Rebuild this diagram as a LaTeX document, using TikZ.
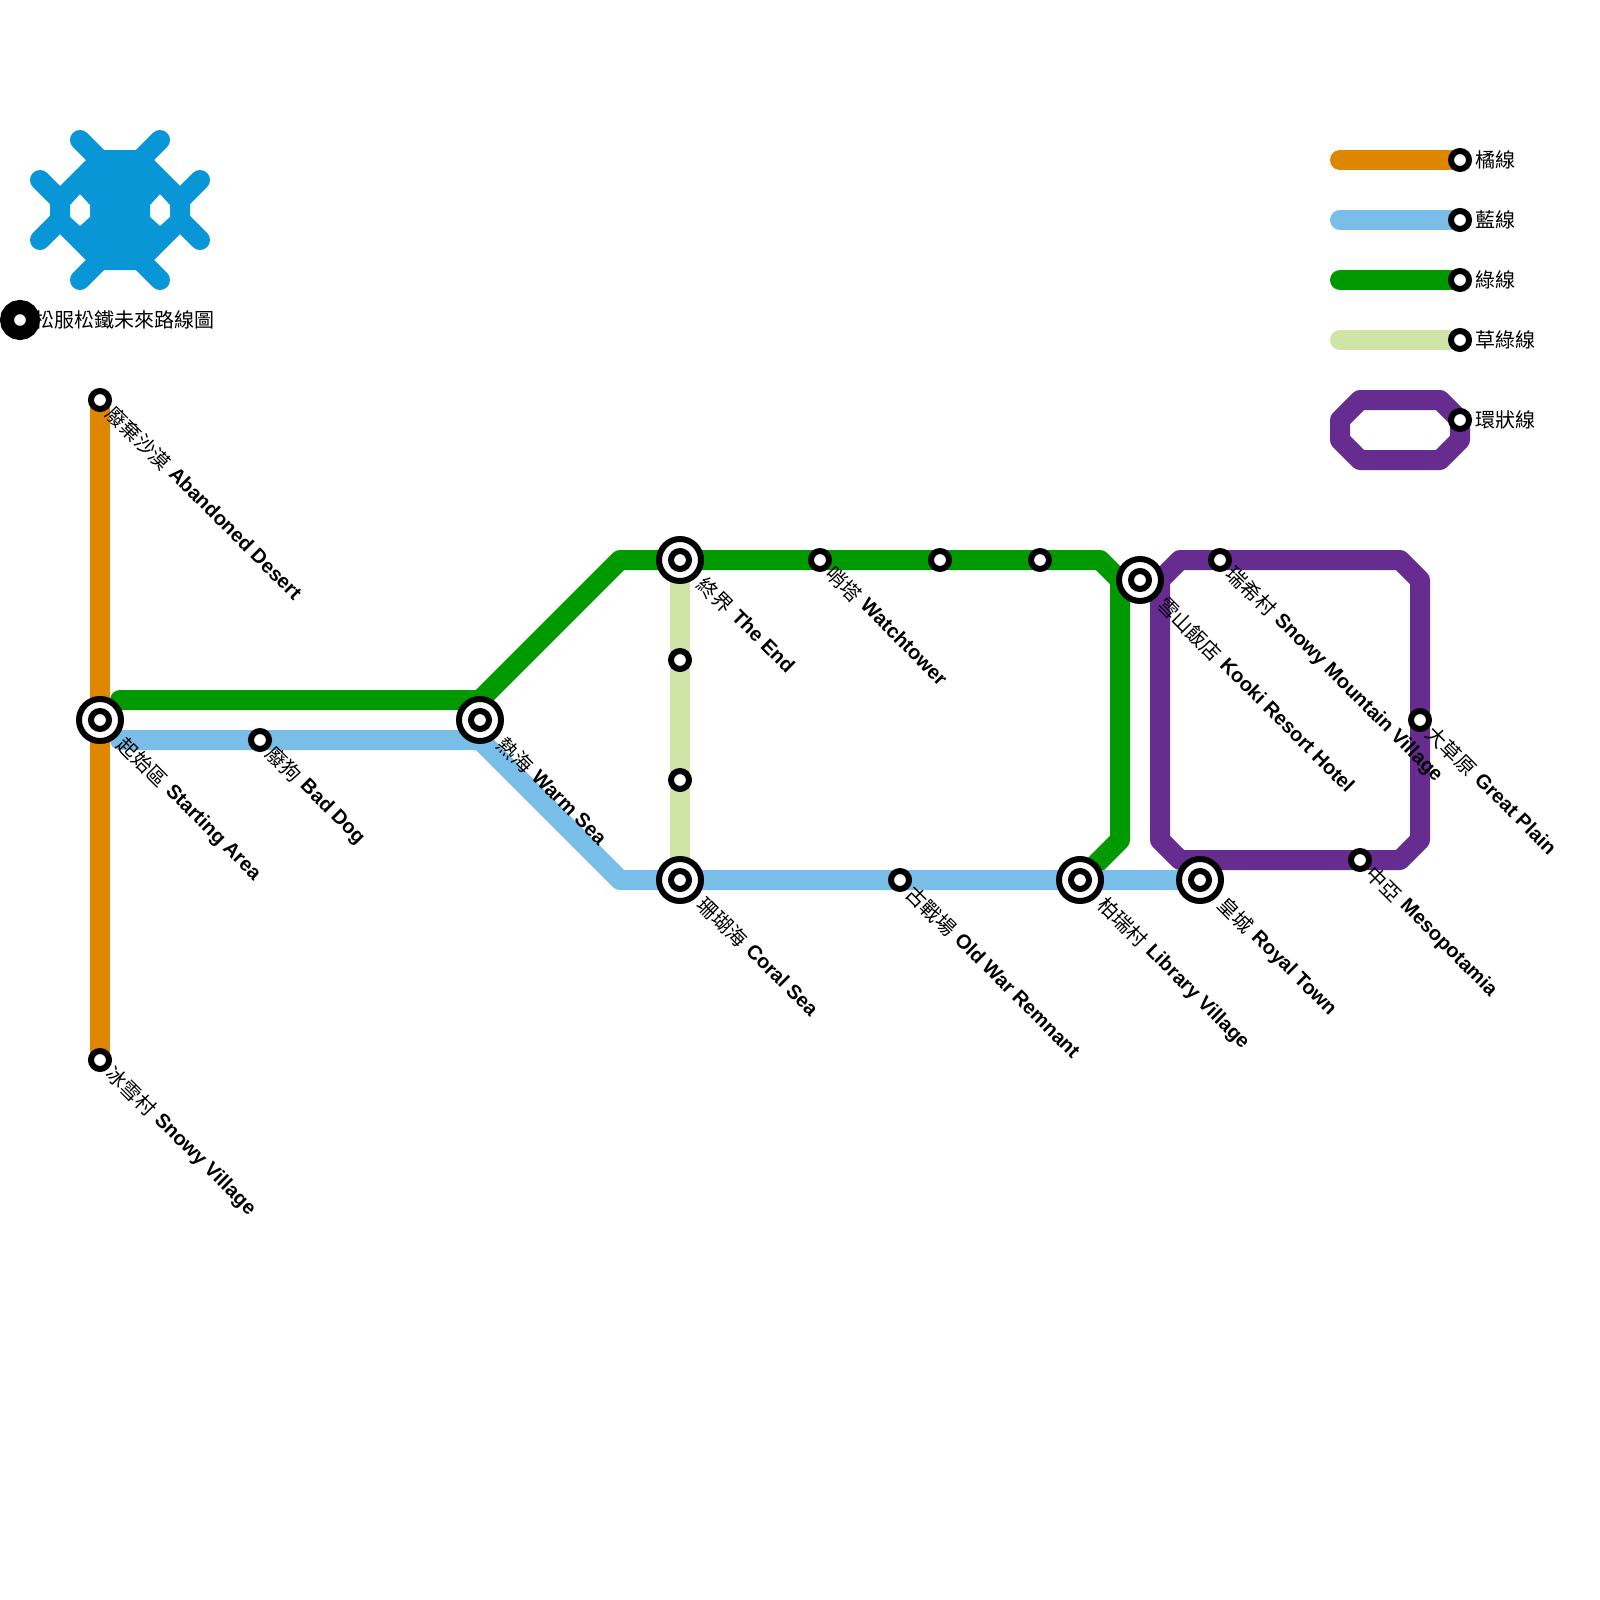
\documentclass[tikz,border=0pt]{standalone}
\usepackage{fontspec}
\setmainfont{Liberation Sans}
\newfontfamily\cjk{Noto Sans CJK TC}
\usetikzlibrary{backgrounds,calc}
\definecolor{orangeline}{HTML}{DF8600}
\definecolor{blueline}{HTML}{79BDE9}
\definecolor{greenline}{HTML}{009900}
\definecolor{grassline}{HTML}{CFE4A7}
\definecolor{loopline}{HTML}{662C90}
\definecolor{logoblue}{HTML}{0896D7}
\tikzset{
  stn/.style={circle,draw=black,fill=white,line width=6pt,minimum size=18pt,inner sep=0pt,outer sep=0pt},
  hubring/.style={circle,draw=black,fill=white,line width=6pt,minimum size=42pt,inner sep=0pt,outer sep=0pt},
  metro/.style={line width=20pt,line join=round,line cap=round},
  stationlabel/.style={rotate=-45,anchor=base west,inner sep=0pt,outer sep=0pt,font=\fontsize{20}{24}\selectfont},
  legendlabel/.style={anchor=base west,inner sep=0pt,outer sep=0pt,font=\fontsize{20}{24}\selectfont\cjk},
  logoarm/.style={line width=20pt,line cap=round,draw=logoblue}
}
\newcommand{\hubat}[3]{\node[hubring] (#1) at (#2,#3) {}; \node[stn] (#1-core) at (#2,#3) {};}
\newcommand{\sglat}[3]{\node[stn] (#1) at (#2,#3) {};}
\newcommand{\slab}[3]{\node[stationlabel] (#1-label) at ([shift={(6.2,13.7)}]#1.center) {\raisebox{-2pt}{\cjk #2}\hspace{1.5pt} \textbf{#3}};}
\newcommand{\hlab}[3]{\node[stationlabel] (#1-label) at ([shift={(17.4,24.9)}]#1.center) {\raisebox{-2pt}{\cjk #2}\hspace{1.5pt} \textbf{#3}};}
\begin{document}
\begin{tikzpicture}[x=1pt,y=-1pt]
\useasboundingbox (0,0) rectangle (1600,1600);
% stations
\sglat{desert}{100}{400}
\hubat{start}{100}{720}
\sglat{snowv}{100}{1060}
\sglat{baddog}{260}{740}
\hubat{warm}{480}{720}
\hubat{theend}{680}{560}
\sglat{grassa}{680}{660}
\sglat{grassb}{680}{780}
\hubat{coral}{680}{880}
\sglat{watch}{820}{560}
\sglat{gra}{940}{560}
\sglat{grb}{1040}{560}
\sglat{oldwar}{900}{880}
\hubat{library}{1080}{880}
\hubat{kooki}{1140}{580}
\sglat{snowm}{1220}{560}
\hubat{royal}{1200}{880}
\sglat{meso}{1360}{860}
\sglat{plain}{1420}{720}
\sglat{legorange}{1460}{160}
\sglat{legblue}{1460}{220}
\sglat{leggreen}{1460}{280}
\sglat{leggrass}{1460}{340}
\sglat{legloop}{1460}{420}
% line bends and free ends
\coordinate (gs) at (120,700);
\coordinate (g1) at (480,700);
\coordinate (g2) at (620,560);
\coordinate (g3) at (1100,560);
\coordinate (g4) at (1120,580);
\coordinate (g5) at (1120,840);
\coordinate (bs) at (120,740);
\coordinate (b1) at (480,740);
\coordinate (b2) at (620,880);
\coordinate (p1) at (1160,580);
\coordinate (p2) at (1180,560);
\coordinate (p3) at (1400,560);
\coordinate (p4) at (1420,580);
\coordinate (p5) at (1420,840);
\coordinate (p6) at (1400,860);
\coordinate (p7) at (1180,860);
\coordinate (p8) at (1160,840);
\coordinate (lo) at (1340,160);
\coordinate (lb) at (1340,220);
\coordinate (lg) at (1340,280);
\coordinate (lm) at (1340,340);
\coordinate (q1) at (1360,400);
\coordinate (q2) at (1440,400);
\coordinate (q4) at (1460,440);
\coordinate (q5) at (1440,460);
\coordinate (q6) at (1360,460);
\coordinate (q7) at (1340,440);
\coordinate (q8) at (1340,420);
\begin{scope}[on background layer]
\fill[white] (0,0) rectangle (1600,1600);
\draw[metro,draw=orangeline] (desert.center) -- (start.center) -- (snowv.center);
\draw[metro,draw=greenline] (gs) -- (g1) -- (g2) -- (theend.center) -- (g3) -- (g4) -- (g5) -- (library.center);
\draw[metro,draw=grassline] (theend.center) -- (coral.center);
\draw[metro,draw=loopline] (p1) -- (p2) -- (p3) -- (p4) -- (p5) -- (p6) -- (p7) -- (p8) -- cycle;
\draw[metro,draw=blueline] (bs) -- (b1) -- (b2) -- (coral.center) -- (royal.center);
\draw[metro,draw=orangeline] (lo) -- (legorange.center);
\draw[metro,draw=blueline] (lb) -- (legblue.center);
\draw[metro,draw=greenline] (lg) -- (leggreen.center);
\draw[metro,draw=grassline] (lm) -- (leggrass.center);
\draw[metro,draw=loopline] (q1) -- (q2) -- (legloop.center) -- (q4) -- (q5) -- (q6) -- (q7) -- (q8) -- cycle;
\end{scope}
% logo
\fill[logoblue,even odd rule] (96,150) -- (144,150) -- (190,196) -- (190,224) -- (144,270) -- (96,270) -- (50,224) -- (50,196) -- cycle
  (80,194) -- (90,205) -- (90,217) -- (80,226) -- (70,217) -- (70,205) -- cycle
  (160,194) -- (170,205) -- (170,217) -- (160,226) -- (150,217) -- (150,205) -- cycle;
\draw[logoarm] (80,140) -- (100,160);
\draw[logoarm] (160,140) -- (140,160);
\draw[logoarm] (40,180) -- (58,198);
\draw[logoarm] (200,180) -- (182,198);
\draw[logoarm] (40,240) -- (58,222);
\draw[logoarm] (200,240) -- (182,222);
\draw[logoarm] (80,280) -- (100,260);
\draw[logoarm] (160,280) -- (140,260);
\node[legendlabel] (logotext) at (34.5,327) {松服松鐵未來路線圖};
\node[circle,draw=black,fill=white,line width=14pt,minimum size=26pt,inner sep=0pt,outer sep=0pt] (logostn) at (20,320) {};
% legend labels
\node[legendlabel] (t1) at (1475,167) {橘線};
\node[legendlabel] (t2) at (1475,227) {藍線};
\node[legendlabel] (t3) at (1475,287) {綠線};
\node[legendlabel] (t4) at (1475,347) {草綠線};
\node[legendlabel] (t5) at (1475,427) {環狀線};
% station labels
\slab{desert}{廢棄沙漠}{Abandoned Desert}
\hlab{start}{起始區}{Starting Area}
\slab{snowv}{冰雪村}{Snowy Village}
\slab{baddog}{廢狗}{Bad Dog}
\hlab{warm}{熱海}{Warm Sea}
\hlab{theend}{終界}{The End}
\slab{watch}{哨塔}{Watchtower}
\hlab{coral}{珊瑚海}{Coral Sea}
\slab{oldwar}{古戰場}{Old War Remnant}
\hlab{library}{柏瑞村}{Library Village}
\hlab{kooki}{雪山飯店}{Kooki Resort Hotel}
\slab{snowm}{瑞希村}{Snowy Mountain Village}
\hlab{royal}{皇城}{Royal Town}
\slab{meso}{中亞}{Mesopotamia}
\slab{plain}{大草原}{Great Plain}
\end{tikzpicture}
\end{document}
